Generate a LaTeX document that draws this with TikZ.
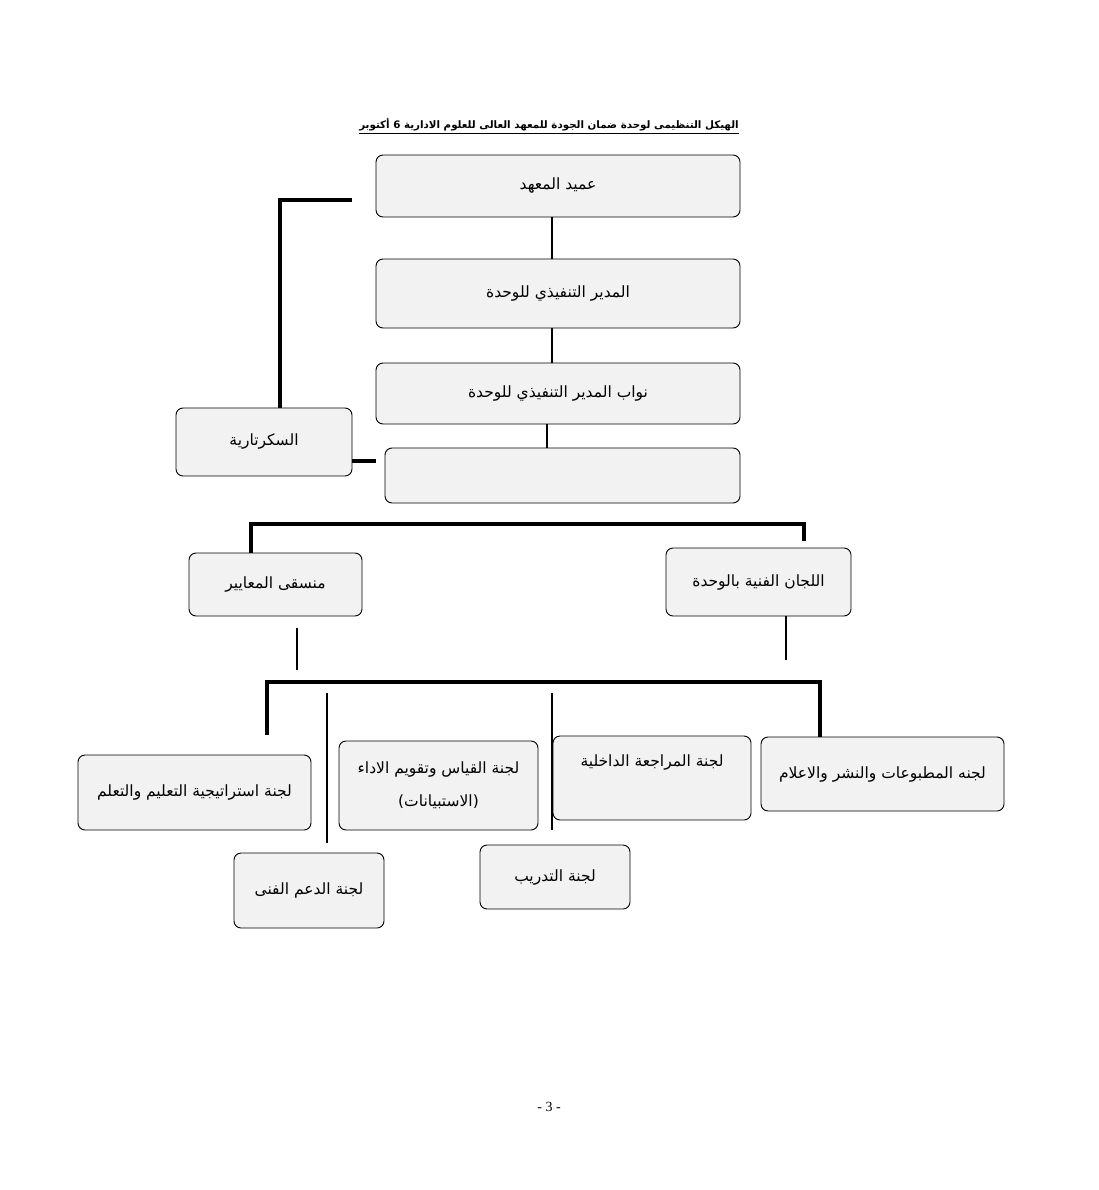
\documentclass[tikz,border=0pt]{standalone}
\usepackage{fontspec}
\setmainfont{Liberation Serif}
\newfontfamily\arabicfont[Script=Arabic]{DejaVu Sans}
\TeXXeTstate=1
\usetikzlibrary{positioning}
\definecolor{boxgray}{RGB}{242,242,242}
\newcommand{\artext}[1]{\beginR #1\endR}
\tikzset{
    unit box/.style={
        draw,
        rounded corners=7pt,
        fill=boxgray,
        line width=0.9pt,
        align=center,
        font=\arabicfont\fontsize{15.5}{33}\selectfont
    },
    thick link/.style={line width=4pt},
    thin link/.style={line width=2.5pt}
}
\begin{document}
\begin{tikzpicture}[x=1pt,y=-1pt]
\useasboundingbox (0,0) rectangle (1099,1190);
\node[font=\arabicfont\bfseries\fontsize{10.3}{13}\selectfont] (title) at (549,126)
    {\underline{\artext{الهيكل التنظيمى لوحدة ضمان الجودة للمعهد العالى للعلوم الادارية 6 أكتوبر}}};
\node[unit box, minimum width=364pt, minimum height=62pt] (dean) at (558,186) {\artext{عميد المعهد}};
\node[unit box, minimum width=364pt, minimum height=69pt] (ed) at (558,293.5) {\artext{المدير التنفيذي للوحدة}};
\node[unit box, minimum width=364pt, minimum height=61pt] (deputies) at (558,393.5) {\artext{نواب المدير التنفيذي للوحدة}};
\node[unit box, minimum width=355pt, minimum height=55pt] (empty) at (562.5,475.5) {};
\node[unit box, minimum width=176pt, minimum height=68pt] (secretary) at (264,442) {\artext{السكرتارية}};
\node[unit box, minimum width=173pt, minimum height=63pt] (coord) at (275.5,584.5) {\artext{منسقى المعايير}};
\node[unit box, minimum width=185pt, minimum height=68pt] (tech) at (758.5,582) {\artext{اللجان الفنية بالوحدة}};
\node[unit box, minimum width=233pt, minimum height=75pt] (strategy) at (194.5,792.5) {\artext{لجنة استراتيجية التعليم والتعلم}};
\node[unit box, minimum width=199pt, minimum height=89pt] (measure) at (438.5,785.5)
    {\artext{لجنة القياس وتقويم الاداء}\\\artext{(الاستبيانات)}};
\node[unit box, minimum width=198pt, minimum height=84pt, text height=12pt, text depth=36pt] (review) at (652,778) {\artext{لجنة المراجعة الداخلية}};
\node[unit box, minimum width=243pt, minimum height=74pt] (pub) at (882.5,774) {\artext{لجنه المطبوعات والنشر والاعلام}};
\node[unit box, minimum width=150pt, minimum height=75pt] (support) at (309,890.5) {\artext{لجنة الدعم الفنى}};
\node[unit box, minimum width=150pt, minimum height=64pt] (training) at (555,877) {\artext{لجنة التدريب}};
\node[font=\fontsize{14}{16}\selectfont] (page) at (549,1107) {- 3 -};
\coordinate (secend) at (352,200);

\draw[thin link] ([xshift=-6pt]dean.south) -- ([xshift=-6pt]ed.north);
\draw[thin link] ([xshift=-6pt]ed.south) -- ([xshift=-6pt]deputies.north);
\draw[thin link] ([xshift=-11pt]deputies.south) -- ([xshift=-11pt]deputies.south |- empty.north);
\draw[thick link] ([xshift=16pt]secretary.north) |- (secend);
\draw[thick link] ([yshift=-19pt]secretary.east) -- ++(24,0);
\draw[thick link] ([xshift=-24.5pt]coord.north) -- ++(0,-29) -| ([xshift=45.5pt,yshift=7pt]tech.north);
\draw[thin link] ([xshift=21.5pt,yshift=-12pt]coord.south) -- ++(0,42);
\draw[thin link] ([xshift=27.5pt]tech.south) -- ++(0,44);
\draw[thick link] ([xshift=72.5pt,yshift=20pt]strategy.north) -- ++(0,-53) -| ([xshift=-62.5pt]pub.north);
\draw[thin link] ([xshift=18pt,yshift=10pt]support.north) -- ++(0,-150);
\draw[thin link] ([xshift=-3pt,yshift=15pt]training.north) -- ++(0,-137);
\end{tikzpicture}
\end{document}
